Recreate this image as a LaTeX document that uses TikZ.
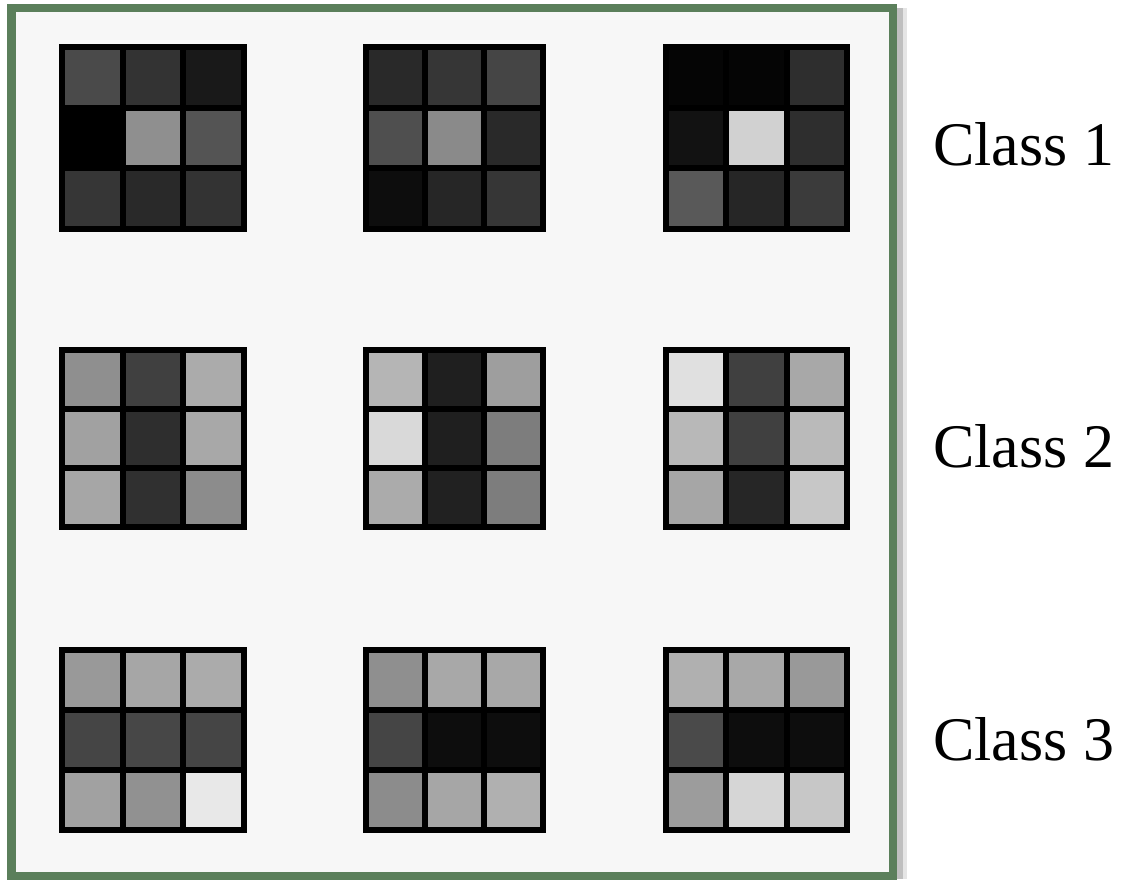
\documentclass[tikz,border=0pt]{standalone}
\usepackage{fontspec}
\setmainfont{Liberation Serif}
\definecolor{framegreen}{HTML}{5B7F5B}
\definecolor{panelbg}{HTML}{F7F7F7}
\tikzset{
  gridline/.style={draw=black,line width=6pt},
  classlabel/.style={inner sep=0pt,anchor=base west,font=\fontsize{62}{70}\selectfont},
}
\newcommand\drawgrid[5]{%
  \foreach \v [count=\i from 0] in {#5} {
    \pgfmathtruncatemacro\cc{mod(\i,3)}
    \pgfmathtruncatemacro\rr{div(\i,3)}
    \fill[white!\v!black] ({#1+\cc*#3/3},{#2+\rr*#4/3}) rectangle ++({#3/3},{#4/3});
  }
  \draw[gridline] (#1,#2) rectangle ++(#3,#4);
  \draw[gridline] ({#1+#3/3},#2) -- ++(0,#4);
  \draw[gridline] ({#1+2*#3/3},#2) -- ++(0,#4);
  \draw[gridline] (#1,{#2+#4/3}) -- ++(#3,0);
  \draw[gridline] (#1,{#2+2*#4/3}) -- ++(#3,0);
}
\begin{document}
\begin{tikzpicture}[x=1pt,y=-1pt]
\useasboundingbox (0,0) rectangle (1124,879);
\fill[white] (0,0) rectangle (1124,879);
% shadow
\fill[black!25] (897,8) rectangle (903,879);
\fill[black!10] (903,8) rectangle (907,879);
% frame
\draw[framegreen,fill=panelbg,line width=8.5pt] (11.5,8) rectangle (893,876);
% grids row 1
\drawgrid{62}{47}{182}{182}{29,20,10,0,56,33,21,16,20}
\drawgrid{366}{47}{177}{182}{16,21,27,31,54,16,5,15,21}
\drawgrid{666}{47}{181}{182}{2,2,18,7,82,18,35,15,23}
% grids row 2
\drawgrid{62}{350}{182}{177}{56,25,67,63,18,66,65,19,55}
\drawgrid{366}{350}{177}{177}{71,12,62,85,12,49,67,13,49}
\drawgrid{666}{350}{181}{177}{88,25,66,72,25,73,65,15,78}
% grids row 3
\drawgrid{62}{650}{182}{180}{60,65,67,27,28,27,63,57,91}
\drawgrid{366}{650}{177}{180}{56,66,66,27,5,5,55,65,69}
\drawgrid{666}{650}{181}{180}{69,66,60,29,5,5,61,84,78}
% labels
\node[classlabel] (c1) at (933,165) {Class 1};
\node[classlabel] (c2) at (933,467) {Class 2};
\node[classlabel] (c3) at (933,760) {Class 3};
\end{tikzpicture}
\end{document}
